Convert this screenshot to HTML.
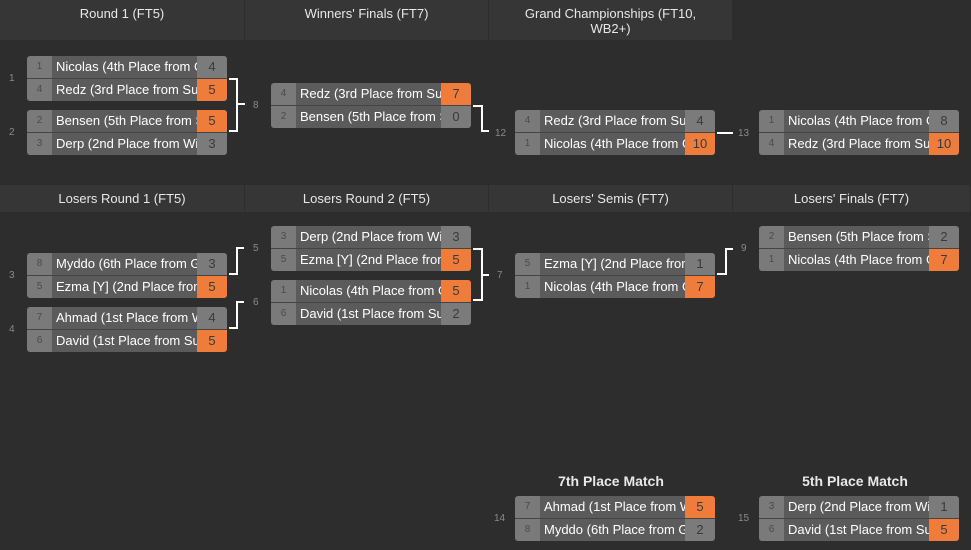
<!DOCTYPE html>
<html><head><meta charset="utf-8"><style>
*{margin:0;padding:0;box-sizing:border-box}
body{width:971px;height:550px;background:#2d2d2d;position:relative;overflow:hidden;font-family:"Liberation Sans",sans-serif}
.h{position:absolute;background:#363636;color:#e8e8e8;font-size:13px;text-align:center;border-right:1px solid #2d2d2d}
.m{position:absolute;width:200px;height:45px;border-radius:3px;overflow:hidden}
.r{position:absolute;left:0;width:200px;height:22px;display:flex}
.r.b{top:23px}
.r.a{top:0}
.s{width:25px;background:#7a7a7a;color:#4a4a4a;font-size:10px;line-height:22px;text-align:center}
.n{flex:1;background:#5b5b5b;color:#fff;font-size:13px;line-height:22px;padding-left:4px;white-space:nowrap;overflow:hidden}
.c{width:30px;background:#7b7b7b;color:#3a3a3a;font-size:13px;line-height:22px;text-align:center}
.c.o{background:#ef7c3a}
.sep{position:absolute;left:0;top:22px;width:200px;height:1px;background:#444}
.l{position:absolute;color:#8a8a8a;font-size:10px}
.t{position:absolute;color:#e8e8e8;font-size:14px;font-weight:bold;width:200px;text-align:center}
svg{position:absolute;left:0;top:0}
</style></head><body>
<div class="h" style="left:0;top:0;width:245px;height:40px;line-height:28px">Round 1 (FT5)</div>
<div class="h" style="left:245px;top:0;width:244px;height:40px;line-height:28px">Winners' Finals (FT7)</div>
<div class="h" style="left:489px;top:0;width:244px;height:40px;line-height:15px;padding-top:6px">Grand Championships (FT10,<br>WB2+)</div>
<div class="h" style="left:0;top:185px;width:245px;height:27px;line-height:27px">Losers Round 1 (FT5)</div>
<div class="h" style="left:245px;top:185px;width:244px;height:27px;line-height:27px">Losers Round 2 (FT5)</div>
<div class="h" style="left:489px;top:185px;width:244px;height:27px;line-height:27px">Losers' Semis (FT7)</div>
<div class="h" style="left:733px;top:185px;width:238px;height:27px;line-height:27px">Losers' Finals (FT7)</div>

<svg width="971" height="550"><g stroke="#fff" stroke-width="2" fill="none">
<polyline points="229,79 237,79 237,131 229,131"/><line x1="237" y1="104" x2="245" y2="104"/>
<polyline points="473,106 482,106 482,131 489,131"/>
<line x1="717" y1="133" x2="733" y2="133"/>
<polyline points="229,274 237,274 237,248 244,248"/>
<polyline points="229,328 237,328 237,302 244,302"/>
<polyline points="473,249 482,249 482,300 473,300"/><line x1="482" y1="275" x2="489" y2="275"/>
<polyline points="717,274 726,274 726,249 733,249"/>
</g></svg>

<div class="l" style="left:9px;top:73px">1</div>
<div class="l" style="left:9px;top:127px">2</div>
<div class="l" style="left:253px;top:100px">8</div>
<div class="l" style="left:495px;top:128px">12</div>
<div class="l" style="left:738px;top:128px">13</div>
<div class="l" style="left:9px;top:270px">3</div>
<div class="l" style="left:9px;top:324px">4</div>
<div class="l" style="left:253px;top:243px">5</div>
<div class="l" style="left:253px;top:297px">6</div>
<div class="l" style="left:497px;top:270px">7</div>
<div class="l" style="left:741px;top:243px">9</div>
<div class="l" style="left:494px;top:513px">14</div>
<div class="l" style="left:738px;top:513px">15</div>
<div class="t" style="left:511px;top:473px">7th Place Match</div>
<div class="t" style="left:755px;top:473px">5th Place Match</div>

<div class="m" style="left:27px;top:56px"><div class="r a"><div class="s">1</div><div class="n">Nicolas (4th Place from G</div><div class="c">4</div></div><div class="sep"></div><div class="r b"><div class="s">4</div><div class="n">Redz (3rd Place from Su</div><div class="c o">5</div></div></div>
<div class="m" style="left:27px;top:110px"><div class="r a"><div class="s">2</div><div class="n">Bensen (5th Place from S</div><div class="c o">5</div></div><div class="sep"></div><div class="r b"><div class="s">3</div><div class="n">Derp (2nd Place from Wi</div><div class="c">3</div></div></div>
<div class="m" style="left:271px;top:83px"><div class="r a"><div class="s">4</div><div class="n">Redz (3rd Place from Su</div><div class="c o">7</div></div><div class="sep"></div><div class="r b"><div class="s">2</div><div class="n">Bensen (5th Place from S</div><div class="c">0</div></div></div>
<div class="m" style="left:515px;top:110px"><div class="r a"><div class="s">4</div><div class="n">Redz (3rd Place from Su</div><div class="c">4</div></div><div class="sep"></div><div class="r b"><div class="s">1</div><div class="n">Nicolas (4th Place from G</div><div class="c o">10</div></div></div>
<div class="m" style="left:759px;top:110px"><div class="r a"><div class="s">1</div><div class="n">Nicolas (4th Place from G</div><div class="c">8</div></div><div class="sep"></div><div class="r b"><div class="s">4</div><div class="n">Redz (3rd Place from Su</div><div class="c o">10</div></div></div>

<div class="m" style="left:27px;top:253px"><div class="r a"><div class="s">8</div><div class="n">Myddo (6th Place from G</div><div class="c">3</div></div><div class="sep"></div><div class="r b"><div class="s">5</div><div class="n">Ezma [Y] (2nd Place from</div><div class="c o">5</div></div></div>
<div class="m" style="left:27px;top:307px"><div class="r a"><div class="s">7</div><div class="n">Ahmad (1st Place from W</div><div class="c">4</div></div><div class="sep"></div><div class="r b"><div class="s">6</div><div class="n">David (1st Place from Su</div><div class="c o">5</div></div></div>
<div class="m" style="left:271px;top:226px"><div class="r a"><div class="s">3</div><div class="n">Derp (2nd Place from Wi</div><div class="c">3</div></div><div class="sep"></div><div class="r b"><div class="s">5</div><div class="n">Ezma [Y] (2nd Place from</div><div class="c o">5</div></div></div>
<div class="m" style="left:271px;top:280px"><div class="r a"><div class="s">1</div><div class="n">Nicolas (4th Place from G</div><div class="c o">5</div></div><div class="sep"></div><div class="r b"><div class="s">6</div><div class="n">David (1st Place from Su</div><div class="c">2</div></div></div>
<div class="m" style="left:515px;top:253px"><div class="r a"><div class="s">5</div><div class="n">Ezma [Y] (2nd Place from</div><div class="c">1</div></div><div class="sep"></div><div class="r b"><div class="s">1</div><div class="n">Nicolas (4th Place from G</div><div class="c o">7</div></div></div>
<div class="m" style="left:759px;top:226px"><div class="r a"><div class="s">2</div><div class="n">Bensen (5th Place from S</div><div class="c">2</div></div><div class="sep"></div><div class="r b"><div class="s">1</div><div class="n">Nicolas (4th Place from G</div><div class="c o">7</div></div></div>

<div class="m" style="left:515px;top:496px"><div class="r a"><div class="s">7</div><div class="n">Ahmad (1st Place from W</div><div class="c o">5</div></div><div class="sep"></div><div class="r b"><div class="s">8</div><div class="n">Myddo (6th Place from G</div><div class="c">2</div></div></div>
<div class="m" style="left:759px;top:496px"><div class="r a"><div class="s">3</div><div class="n">Derp (2nd Place from Wi</div><div class="c">1</div></div><div class="sep"></div><div class="r b"><div class="s">6</div><div class="n">David (1st Place from Su</div><div class="c o">5</div></div></div>
</body></html>
